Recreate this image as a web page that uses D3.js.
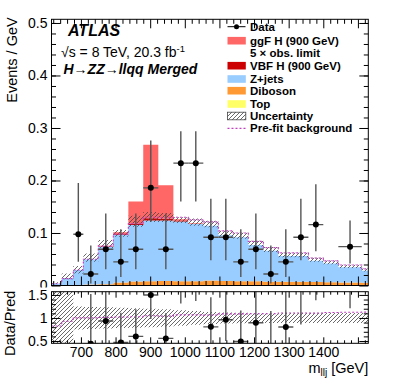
<!DOCTYPE html>
<html>
<head>
<meta charset="utf-8">
<script src="https://cdn.jsdelivr.net/npm/d3@7"></script>
<style>
  body { margin: 0; background: #fff; }
  svg { display: block; font-family: "Liberation Sans", Arial, Helvetica, sans-serif; }
</style>
</head>
<body>
<script>
const width = 399;
const height = 383;

// bin edges in GeV (last bin cut by the axis)
const binEdges = [615, 644.5, 678, 707, 750, 793.5, 837, 880, 923.5, 967, 1010, 1053.5,
  1097, 1140, 1183.5, 1227, 1270, 1313.5, 1357, 1400, 1443.5, 1511, 1530];

// stacked contributions, events / GeV
const topBkg = [0, 0, 0, 0.0003, 0.0005, 0.0005, 0.0006, 0.0006, 0.0006, 0.0005, 0.0005,
  0.0005, 0.0004, 0.0004, 0.0004, 0.0003, 0.0003, 0.0003, 0.0003, 0.0002, 0.0002, 0.0002];
const diboson = [0.0005, 0.0008, 0.001, 0.0015, 0.002, 0.005, 0.007, 0.0075, 0.0078, 0.0078, 0.0075,
  0.009, 0.008, 0.0075, 0.0075, 0.007, 0.007, 0.0068, 0.0065, 0.006, 0.0055, 0.005];
const zjets = [0.0035, 0.0132, 0.0285, 0.0482, 0.0715, 0.0905, 0.1074, 0.1159, 0.1156, 0.1137, 0.109,
  0.1045, 0.0872, 0.0841, 0.0691, 0.0587, 0.0487, 0.0489, 0.0402, 0.0358, 0.029, 0.0228];
const vbfH = [0, 0, 0, 0, 0.0005, 0.0015, 0.003, 0.004, 0.003, 0.001, 0.0005,
  0, 0, 0, 0, 0, 0, 0, 0, 0, 0, 0];
const ggfH = [0, 0, 0, 0, 0.001, 0.004, 0.042, 0.14, 0.064, 0.003, 0.001,
  0, 0, 0, 0, 0, 0, 0, 0, 0, 0, 0];

// background uncertainty band (above / below the total)
const uncUp = [0.002, 0.009, 0.0075, 0.011, 0.0127, 0.0097, 0.018, 0.016, 0.014, 0.008, 0.0105,
  0.0094, 0.0085, 0.0085, 0.008, 0.0073, 0.0065, 0.0065, 0.006, 0.0055, 0.005, 0.0045];
const uncDown = [0.001, 0.002, 0.0065, 0.005, 0.003, 0.003, 0.003, 0.003, 0.003, 0.003, 0.003,
  0.003, 0.0028, 0.0028, 0.0025, 0.0022, 0.002, 0.002, 0.0018, 0.0016, 0.0014, 0.0012];
// half width of the band in the ratio panel
const ratioBand = [1, 0.7, 0.25, 0.24, 0.23, 0.22, 0.21, 0.2, 0.19, 0.17, 0.15,
  0.13, 0.12, 0.115, 0.11, 0.11, 0.11, 0.11, 0.11, 0.11, 0.11, 0.11];

// pre-fit background
const prefit = [0.0033, 0.013, 0.0295, 0.05, 0.075, 0.098, 0.118, 0.13, 0.129, 0.13, 0.125,
  0.121, 0.104, 0.1, 0.084, 0.072, 0.062, 0.062, 0.052, 0.047, 0.039, 0.0315];

// data, events / GeV with error bar ends
const dataVal = [null, null, 0.0975, 0.022, 0.069, 0.045, 0.069, 0.186, 0.069, 0.233, 0.233,
  0.092, 0.092, 0.045, 0.069, 0.022, 0.045, 0.092, 0.116, null, 0.074, null];
const dataLo = [null, null, 0.045, 0.004, 0.031, 0.016, 0.031, 0.121, 0.031, 0.16, 0.16,
  0.048, 0.048, 0.016, 0.031, 0.004, 0.016, 0.048, 0.065, null, 0.042, null];
const dataHi = [null, null, 0.195, 0.076, 0.137, 0.107, 0.137, 0.276, 0.137, 0.294, 0.294,
  0.165, 0.165, 0.107, 0.137, 0.076, 0.107, 0.165, 0.193, null, 0.124, null];

const xLabels = [700, 800, 900, 1000, 1100, 1200, 1300, 1400];
const xMajor = [700, 800, 900, 1000, 1100, 1200, 1300, 1400, 1500];
const yLabels = [0, 0.1, 0.2, 0.3, 0.4, 0.5];
const rLabels = [0.5, 1, 1.5];

const colors = { top: "#ffff66", diboson: "#ff9933", zjets: "#99ccff", vbf: "#cc0000", ggf: "#ff6666" };
const prefitColor = "#c040c0";
const errColor = "#555";

const left = 51.5, right = 368.3, mTop = 19.3, mBot = 285.5, rTop = 291.7, rBot = 343.3;

const x = d3.scaleLinear().domain([615, 1530]).range([left, right]);
const y = d3.scaleLinear().domain([0, 0.507]).range([mBot, mTop]);
const yr = d3.scaleLinear().domain([0.45, 1.57]).range([rBot, rTop]);

const nBins = binEdges.length - 1;
const bins = d3.range(nBins);
const bkgTotal = bins.map((i) => topBkg[i] + diboson[i] + zjets[i]);

const svg = d3.select("body").append("svg").attr("width", width).attr("height", height);
const defs = svg.append("defs");
defs.append("clipPath").attr("id", "clipMain").append("rect")
  .attr("x", left).attr("y", mTop).attr("width", right - left).attr("height", mBot - mTop);
defs.append("clipPath").attr("id", "clipRatio").append("rect")
  .attr("x", left).attr("y", rTop).attr("width", right - left).attr("height", rBot - rTop);
const hatch = defs.append("pattern").attr("id", "hatch")
  .attr("patternUnits", "userSpaceOnUse").attr("width", 4).attr("height", 4);
hatch.append("path").attr("d", "M-1,1 l2,-2 M0,4 l4,-4 M3,5 l2,-2")
  .attr("stroke", "#444").attr("stroke-width", 0.8);

// step helpers
const stepPts = (f) => bins.flatMap((i) => [
  { x: binEdges[i], v: f(i) }, { x: binEdges[i + 1], v: f(i) }]);
const bandPts = (lo, hi) => bins.flatMap((i) => [
  { x: binEdges[i], lo: lo(i), hi: hi(i) }, { x: binEdges[i + 1], lo: lo(i), hi: hi(i) }]);

// ---------- main panel
const main = svg.append("g").attr("clip-path", "url(#clipMain)");

const table = bins.map((i) => ({ top: topBkg[i], diboson: diboson[i], zjets: zjets[i], vbf: vbfH[i], ggf: ggfH[i] }));
const stacked = d3.stack().keys(["top", "diboson", "zjets", "vbf", "ggf"])(table);
const stepArea = d3.area().x((p) => x(p.x)).y0((p) => y(p.lo)).y1((p) => y(p.hi));

stacked.forEach((s) => {
  main.append("path")
    .attr("d", stepArea(bandPts((i) => s[i][0], (i) => s[i][1])))
    .attr("fill", colors[s.key]);
});

main.append("path")
  .attr("d", stepArea(bandPts((i) => bkgTotal[i] - uncDown[i], (i) => bkgTotal[i] + uncUp[i])))
  .attr("fill", "url(#hatch)");

main.append("path")
  .attr("d", d3.line().x((p) => x(p.x)).y((p) => y(p.v))(stepPts((i) => prefit[i])))
  .attr("fill", "none").attr("stroke", prefitColor).attr("stroke-width", 1.2)
  .attr("stroke-dasharray", "2,2");

const dataBins = bins.filter((i) => dataVal[i] !== null);
const mid = (i) => (binEdges[i] + binEdges[i + 1]) / 2;

const drawData = (g, ys, val, lo, hi) => {
  g.selectAll(null).data(dataBins).enter().append("line")
    .attr("x1", (i) => x(mid(i))).attr("x2", (i) => x(mid(i)))
    .attr("y1", (i) => ys(lo(i))).attr("y2", (i) => ys(hi(i)))
    .attr("stroke", errColor).attr("stroke-width", 1.4);
  g.selectAll(null).data(dataBins).enter().append("line")
    .attr("x1", (i) => x(binEdges[i])).attr("x2", (i) => x(binEdges[i + 1]))
    .attr("y1", (i) => ys(val(i))).attr("y2", (i) => ys(val(i)))
    .attr("stroke", errColor).attr("stroke-width", 1.4);
  g.selectAll(null).data(dataBins).enter().append("circle")
    .attr("cx", (i) => x(mid(i))).attr("cy", (i) => ys(val(i))).attr("r", 3)
    .attr("fill", "#000");
};
drawData(main, y, (i) => dataVal[i], (i) => dataLo[i], (i) => dataHi[i]);

// axes of the main panel (the ratio pad covers the lower half of the "0")
const fontTick = 14;
const axisG = (gen, tx, ty) => svg.append("g").attr("transform", `translate(${tx},${ty})`).call(gen);
const styleAxis = (g) => {
  g.select(".domain").remove();
  g.selectAll("line").attr("stroke", "#000");
  g.selectAll("text").attr("font-size", fontTick).attr("fill", "#000").attr("font-family", null);
};
styleAxis(axisG(d3.axisLeft(y).tickValues(yLabels).tickSize(-9).tickPadding(4)
  .tickFormat((d) => (d === 0 ? "0" : d3.format(".1f")(d))), left, 0));
styleAxis(axisG(d3.axisLeft(y).tickValues(d3.range(0.02, 0.507, 0.02)).tickSize(-4.5).tickFormat(""), left, 0));
styleAxis(axisG(d3.axisRight(y).tickValues(yLabels).tickSize(-9).tickFormat(""), right, 0));
styleAxis(axisG(d3.axisRight(y).tickValues(d3.range(0.02, 0.507, 0.02)).tickSize(-4.5).tickFormat(""), right, 0));
const xMinor = d3.range(620, 1530, 20).filter((v) => v % 100 !== 0);
styleAxis(axisG(d3.axisBottom(x).tickValues(xMajor).tickSize(-9).tickFormat(""), 0, mBot));
styleAxis(axisG(d3.axisBottom(x).tickValues(xMinor).tickSize(-4.5).tickFormat(""), 0, mBot));
styleAxis(axisG(d3.axisTop(x).tickValues(xMajor).tickSize(-9).tickFormat(""), 0, mTop));
styleAxis(axisG(d3.axisTop(x).tickValues(xMinor).tickSize(-4.5).tickFormat(""), 0, mTop));
svg.append("rect").attr("x", left).attr("y", mTop).attr("width", right - left).attr("height", mBot - mTop)
  .attr("fill", "none").attr("stroke", "#000").attr("stroke-width", 1);

// ---------- ratio pad
svg.append("rect").attr("x", 0).attr("y", 287.5).attr("width", width).attr("height", height - 287.5).attr("fill", "#fff");
const ratio = svg.append("g").attr("clip-path", "url(#clipRatio)");
const rArea = d3.area().x((p) => x(p.x)).y0((p) => yr(p.lo)).y1((p) => yr(p.hi));
ratio.append("path")
  .attr("d", rArea(bandPts((i) => 1 - ratioBand[i], (i) => 1 + ratioBand[i])))
  .attr("fill", "url(#hatch)");
ratio.append("path")
  .attr("d", d3.line().x((p) => x(p.x)).y((p) => yr(p.v))(stepPts((i) => prefit[i] / bkgTotal[i])))
  .attr("fill", "none").attr("stroke", prefitColor).attr("stroke-width", 1.2)
  .attr("stroke-dasharray", "2,2");
drawData(ratio, yr, (i) => dataVal[i] / bkgTotal[i], (i) => dataLo[i] / bkgTotal[i], (i) => dataHi[i] / bkgTotal[i]);

const rMinor = d3.range(0.5, 1.57, 0.1).filter((v) => Math.abs(v * 2 - Math.round(v * 2)) > 0.01);
styleAxis(axisG(d3.axisLeft(yr).tickValues(rLabels).tickSize(-9).tickPadding(4).tickFormat((d) => d), left, 0));
styleAxis(axisG(d3.axisLeft(yr).tickValues(rMinor).tickSize(-4.5).tickFormat(""), left, 0));
styleAxis(axisG(d3.axisRight(yr).tickValues(rLabels).tickSize(-9).tickFormat(""), right, 0));
styleAxis(axisG(d3.axisRight(yr).tickValues(rMinor).tickSize(-4.5).tickFormat(""), right, 0));
styleAxis(axisG(d3.axisBottom(x).tickValues(xLabels).tickSize(-6).tickPadding(3.5).tickFormat((d) => d), 0, rBot));
styleAxis(axisG(d3.axisBottom(x).tickValues([1500]).tickSize(-6).tickFormat(""), 0, rBot));
styleAxis(axisG(d3.axisBottom(x).tickValues(xMinor).tickSize(-3).tickFormat(""), 0, rBot));
styleAxis(axisG(d3.axisTop(x).tickValues(xMajor).tickSize(-6).tickFormat(""), 0, rTop));
styleAxis(axisG(d3.axisTop(x).tickValues(xMinor).tickSize(-3).tickFormat(""), 0, rTop));
svg.append("rect").attr("x", left).attr("y", rTop).attr("width", right - left).attr("height", rBot - rTop)
  .attr("fill", "none").attr("stroke", "#000").attr("stroke-width", 1);

// ---------- axis titles
svg.append("text").attr("transform", `translate(17,${mTop - 2}) rotate(-90)`)
  .attr("text-anchor", "end").attr("font-size", 14.5).text("Events /  GeV");
svg.append("text").attr("transform", `translate(15,${rTop - 1}) rotate(-90)`)
  .attr("text-anchor", "end").attr("font-size", 14.5).text("Data/Pred");
const xt = svg.append("text").attr("x", right).attr("y", 373).attr("text-anchor", "end").attr("font-size", 14.5);
xt.append("tspan").text("m");
xt.append("tspan").attr("font-size", 10).attr("dy", 3).text("llj");
xt.append("tspan").attr("dy", -3).text(" [GeV]");

// ---------- ATLAS labels
svg.append("text").attr("x", 68).attr("y", 36).attr("font-size", 16)
  .attr("font-weight", "bold").attr("font-style", "italic").text("ATLAS");
const lumi = svg.append("text").attr("x", 61).attr("y", 57).attr("font-size", 14);
lumi.append("tspan").text("\u221As = 8 TeV, 20.3 fb");
lumi.append("tspan").attr("font-size", 9.5).attr("dy", -5).text("-1");
svg.append("text").attr("x", 63.5).attr("y", 74).attr("font-size", 14)
  .attr("font-weight", "bold").attr("font-style", "italic").text("H\u2192ZZ\u2192llqq Merged");

// ---------- legend
const legendLabels = ["Data", "ggF H (900 GeV)", "5 \u00d7 obs. limit", "VBF H (900 GeV)", "Z+jets",
  "Diboson", "Top", "Uncertainty", "Pre-fit background"];
const legendRows = [26.7, 40.7, 52.7, 65.7, 79, 90.7, 104, 116, 128.3];
const legendKind = ["data", colors.ggf, null, colors.vbf, colors.zjets, colors.diboson, colors.top, "hatch", "prefit"];
const lg = svg.append("g");
legendLabels.forEach((label, k) => {
  const cy = legendRows[k];
  const kind = legendKind[k];
  if (kind === "data") {
    lg.append("line").attr("x1", 227.5).attr("x2", 245.5).attr("y1", cy).attr("y2", cy)
      .attr("stroke", "#000").attr("stroke-width", 1);
    lg.append("circle").attr("cx", 236.5).attr("cy", cy).attr("r", 2.5).attr("fill", "#000");
  } else if (kind === "prefit") {
    lg.append("line").attr("x1", 227.5).attr("x2", 245.5).attr("y1", cy).attr("y2", cy)
      .attr("stroke", prefitColor).attr("stroke-width", 1.2).attr("stroke-dasharray", "2,2");
  } else if (kind === "hatch") {
    lg.append("rect").attr("x", 227.5).attr("y", cy - 3.8).attr("width", 18.3).attr("height", 7.6)
      .attr("fill", "url(#hatch)").attr("stroke", "#444").attr("stroke-width", 0.8);
  } else if (kind) {
    lg.append("rect").attr("x", 227.5).attr("y", cy - 3.8).attr("width", 18.3).attr("height", 7.6)
      .attr("fill", kind);
  }
  lg.append("text").attr("x", 250).attr("y", cy + 4).attr("font-size", 11.5)
    .attr("font-weight", "bold").text(label);
});
</script>
</body>
</html>
